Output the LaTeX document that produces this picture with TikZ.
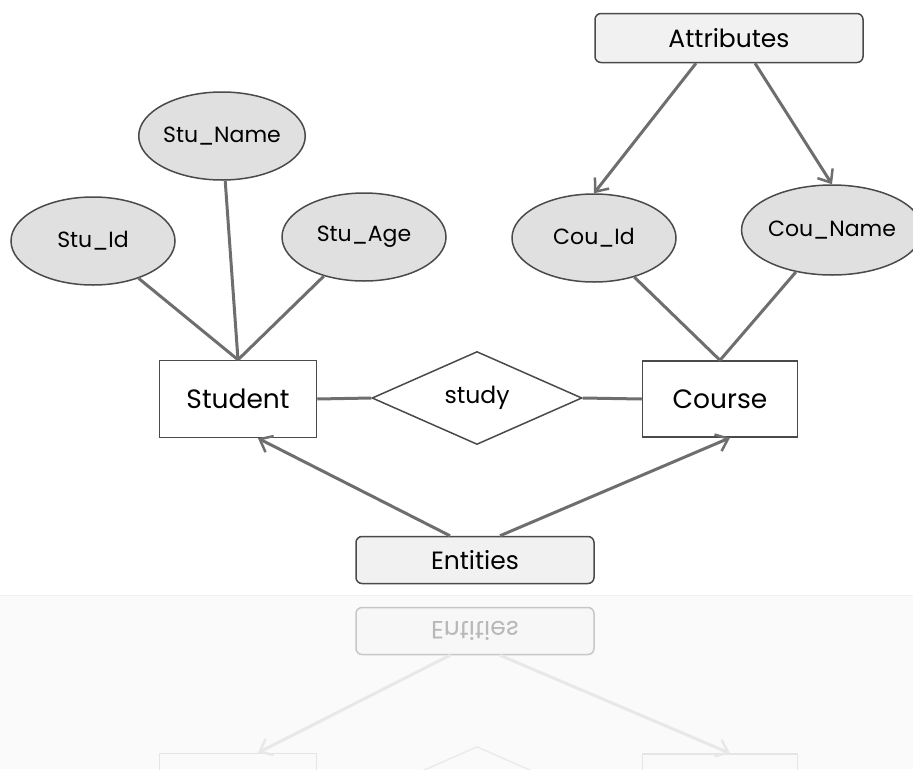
\documentclass[tikz,border=0pt]{standalone}
\usepackage{fontspec}
\setmainfont{Poppins}
\usetikzlibrary{shapes.geometric,arrows.meta}
\definecolor{edgec}{HTML}{6E6E6E}
\definecolor{bord}{HTML}{4A4A4A}
\definecolor{ellfill}{HTML}{E0E0E0}
\definecolor{boxfill}{HTML}{F1F1F1}
\begin{document}
\begin{tikzpicture}[x=1pt,y=-1pt,
  attr/.style={ellipse, draw=bord, fill=ellfill, line width=1.5pt, inner sep=0pt,
    minimum width=164pt, minimum height=88pt, font=\fontsize{22}{26}\selectfont},
  entbox/.style={rectangle, draw=bord, fill=white, line width=1.5pt, inner sep=0pt,
    minimum width=157pt, minimum height=77pt, font=\fontsize{26.5}{30}\selectfont},
  relbox/.style={diamond, draw=bord, fill=white, line width=1.5pt, inner sep=0pt,
    minimum width=210pt, minimum height=93pt, font=\fontsize{23.5}{27}\selectfont},
  tagbox/.style={rectangle, rounded corners=6pt, draw=bord, fill=boxfill, line width=1.5pt,
    inner sep=0pt, minimum height=49pt, font=\fontsize{25}{29}\selectfont},
  link/.style={draw=edgec, line width=3pt},
  arr/.style={link, -{Straight Barb[length=11pt,width=18pt,line width=2.5pt]}},
  rtag/.style={tagbox, draw=black!22, fill=black!3, text=black!28},
  rlink/.style={draw=black!9, line width=3pt, -{Straight Barb[length=11pt,width=18pt,line width=2.5pt]}},
  rent/.style={entbox, draw=black!10, fill=none},
]
\useasboundingbox (0,0) rectangle (913,769);
\clip (0,0) rectangle (913,769);
% reflection area
\fill[black!2] (0,595) rectangle (913,769);
\draw[black!6, line width=0.8pt] (0,595) -- (913,595);

% attributes
\node[attr] (stuname) at (222,136) {Stu\_Name};
\node[attr] (stuid) at (93,241) {Stu\_Id};
\node[attr] (stuage) at (364,237) {Stu\_Age};
\node[attr] (couid) at (594,238) {Cou\_Id};
\node[attr, minimum width=160pt, minimum height=90pt] (couname) at (832,230) {Cou\_Name};

% entities and relation
\node[entbox] (student) at (238,399) {Student};
\node[relbox] (study) at (477,398) {study};
\node[entbox, minimum width=155pt, minimum height=76pt] (course) at (720,399) {Course};

% labels
\node[tagbox, minimum width=268pt] (attrs) at (729,38) {Attributes};
\node[tagbox, minimum width=238pt, minimum height=47pt] (ents) at (475,560) {Entities};

% connectors
\draw[link] (stuid) -- (student.north);
\draw[link] (stuname) -- (student.north);
\draw[link] (stuage) -- (student.north);
\draw[link] (couid) -- (course.north);
\draw[link] (couname) -- (course.north);
\draw[link] (student.east) -- (study.west);
\draw[link] (study.east) -- (course.west);

\draw[arr] ([xshift=-33pt]attrs.south) -- (couid.north);
\draw[arr] ([xshift=26pt]attrs.south) -- (couname.north);
\draw[arr] ([xshift=-25pt]ents.north) -- ([xshift=20pt]student.south);
\draw[arr] ([xshift=25pt]ents.north) -- ([xshift=10pt]course.south);

% reflection
\node[rtag, minimum width=238pt, minimum height=47pt] (rents) at (475,631) {\scalebox{1}[-1]{Entities}};
\node[rent] (rstudent) at (238,792) {};
\node[relbox, draw=black!8, fill=none, text opacity=0] (rstudy) at (477,793) {};
\node[rent, minimum width=155pt, minimum height=76pt] (rcourse) at (720,792) {};
\draw[rlink] ([xshift=-25pt]rents.south) -- ([xshift=20pt]rstudent.north);
\draw[rlink] ([xshift=25pt]rents.south) -- ([xshift=10pt]rcourse.north);
\end{tikzpicture}
\end{document}
